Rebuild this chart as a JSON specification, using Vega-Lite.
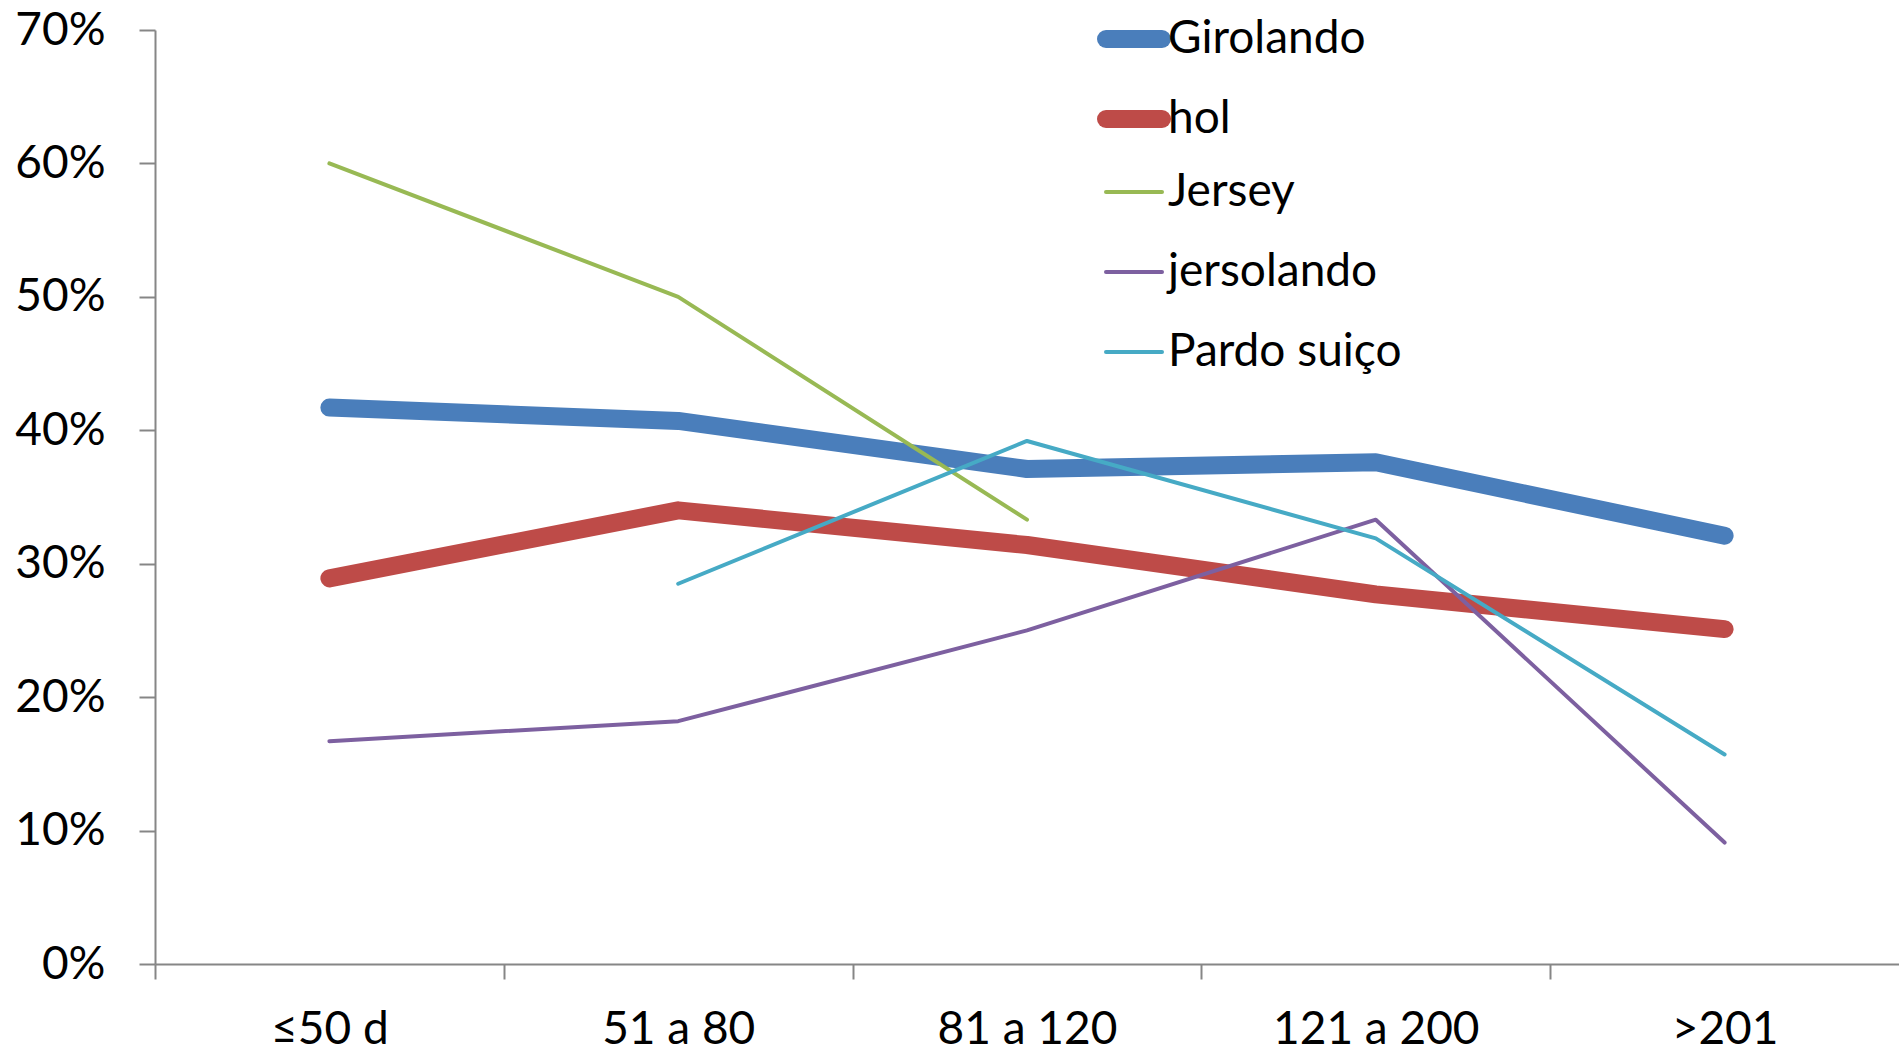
{
  "$schema": "https://vega.github.io/schema/vega-lite/v6.json",
  "width": 1744,
  "height": 934,
  "autosize": "none",
  "padding": {"left": 155, "top": 30, "right": 0, "bottom": 91},
  "background": "white",
  "config": {
    "view": {"stroke": null},
    "font": "Lato",
    "legend": {
      "orient": "none",
      "legendX": 942,
      "legendY": -28,
      "padding": 0,
      "symbolType": "stroke",
      "symbolSize": 3136,
      "labelFontSize": 46,
      "labelFont": "Lato",
      "labelColor": "black",
      "labelLimit": 0,
      "rowPadding": 7,
      "labelOffset": -3,
      "gridAlign": "all"
    }
  },
  "data": {
    "values": [
      {"series": "Girolando", "period": "≤50 d", "value": 0.417},
      {"series": "Girolando", "period": "51 a 80", "value": 0.407},
      {"series": "Girolando", "period": "81 a 120", "value": 0.371},
      {"series": "Girolando", "period": "121 a 200", "value": 0.376},
      {"series": "Girolando", "period": ">201", "value": 0.321},
      {"series": "hol", "period": "≤50 d", "value": 0.289},
      {"series": "hol", "period": "51 a 80", "value": 0.34},
      {"series": "hol", "period": "81 a 120", "value": 0.314},
      {"series": "hol", "period": "121 a 200", "value": 0.277},
      {"series": "hol", "period": ">201", "value": 0.251},
      {"series": "Jersey", "period": "≤50 d", "value": 0.60},
      {"series": "Jersey", "period": "51 a 80", "value": 0.50},
      {"series": "Jersey", "period": "81 a 120", "value": 0.333},
      {"series": "jersolando", "period": "≤50 d", "value": 0.167},
      {"series": "jersolando", "period": "51 a 80", "value": 0.182},
      {"series": "jersolando", "period": "81 a 120", "value": 0.25},
      {"series": "jersolando", "period": "121 a 200", "value": 0.333},
      {"series": "jersolando", "period": ">201", "value": 0.091},
      {"series": "Pardo suiço", "period": "51 a 80", "value": 0.285},
      {"series": "Pardo suiço", "period": "81 a 120", "value": 0.392},
      {"series": "Pardo suiço", "period": "121 a 200", "value": 0.319},
      {"series": "Pardo suiço", "period": ">201", "value": 0.157}
    ]
  },
  "mark": {"type": "line", "strokeCap": "round", "strokeJoin": "round"},
  "encoding": {
    "x": {
      "field": "period",
      "type": "ordinal",
      "sort": ["≤50 d", "51 a 80", "81 a 120", "121 a 200", ">201"],
      "scale": {"type": "band", "paddingInner": 0, "paddingOuter": 0},
      "axis": {
        "title": null,
        "labelAngle": 0,
        "tickOffset": -174.4,
        "labelOffset": 174.4,
        "tickSize": 15,
        "labelBaseline": "middle",
        "labelPadding": 50,
        "labelFontSize": 46,
        "labelFont": "Lato",
        "labelColor": "black",
        "labelLimit": 0,
        "domainColor": "#868686",
        "tickColor": "#868686",
        "domainWidth": 2,
        "tickWidth": 2,
        "grid": false
      }
    },
    "y": {
      "field": "value",
      "type": "quantitative",
      "scale": {"domain": [0, 0.7], "nice": false},
      "axis": {
        "title": null,
        "values": [0, 0.1, 0.2, 0.3, 0.4, 0.5, 0.6, 0.7],
        "format": ".0%",
        "grid": false,
        "tickSize": 16,
        "labelPadding": 34,
        "labelFontSize": 46,
        "labelFont": "Lato",
        "labelColor": "black",
        "domainColor": "#868686",
        "tickColor": "#868686",
        "domainWidth": 2,
        "tickWidth": 2
      }
    },
    "color": {
      "field": "series",
      "type": "nominal",
      "title": null,
      "scale": {
        "domain": ["Girolando", "hol", "Jersey", "jersolando", "Pardo suiço"],
        "range": ["#4A7EBB", "#BE4B48", "#98B954", "#7D60A0", "#46AAC5"]
      },
      "legend": {
        "encoding": {
          "symbols": {
            "strokeCap": {"value": "round"}
          }
        }
      }
    },
    "strokeWidth": {
      "field": "series",
      "type": "nominal",
      "title": null,
      "scale": {
        "type": "ordinal",
        "domain": ["Girolando", "hol", "Jersey", "jersolando", "Pardo suiço"],
        "range": [18, 18, 4, 4, 4]
      },
      "legend": {
        "encoding": {
          "symbols": {
            "strokeCap": {"value": "round"}
          }
        }
      }
    }
  }
}
